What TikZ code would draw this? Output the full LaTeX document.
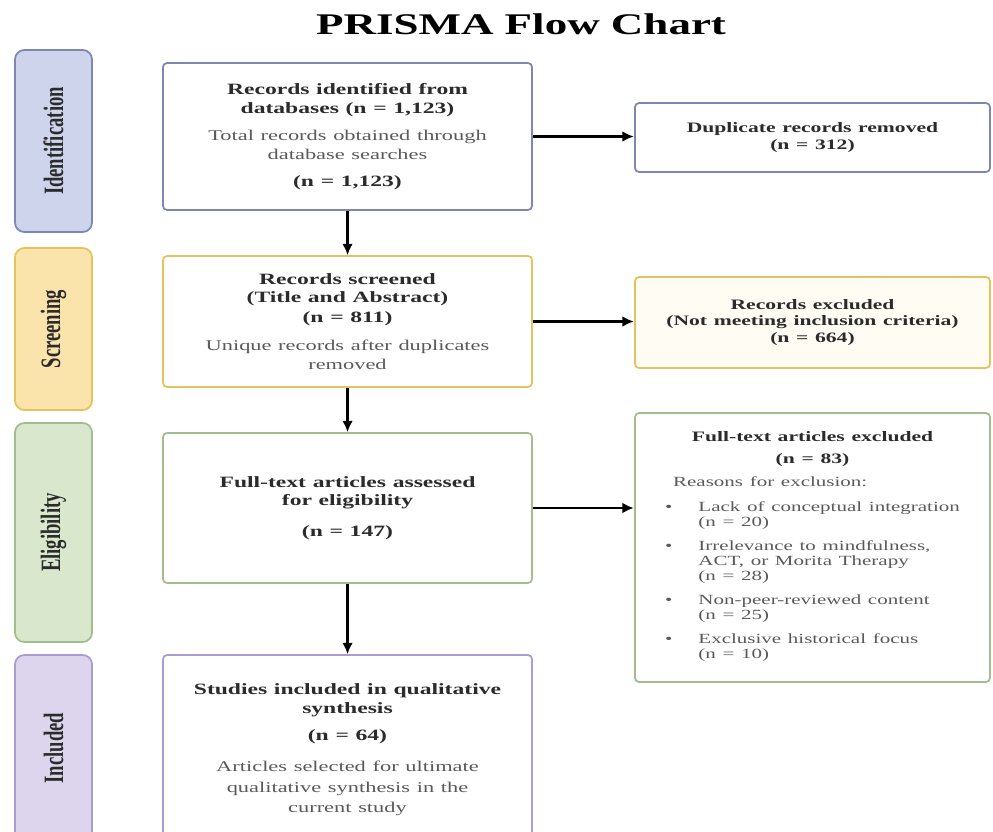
\documentclass[tikz,border=0pt]{standalone}
\usepackage{fontspec}
\setmainfont{Liberation Serif}
\usepackage{xcolor}
\usetikzlibrary{arrows.meta}
\definecolor{idblue}{HTML}{7D87B2}
\definecolor{idfill}{HTML}{CDD4EC}
\definecolor{scryellow}{HTML}{E6C25E}
\definecolor{scrfill}{HTML}{FBE3AC}
\definecolor{scrpale}{HTML}{FFFDF3}
\definecolor{eliggreen}{HTML}{A1BE8D}
\definecolor{eligfill}{HTML}{D9E7CD}
\definecolor{inclpurple}{HTML}{AA9CD1}
\definecolor{inclfill}{HTML}{DDD5EE}
\definecolor{headtxt}{HTML}{2B2B2B}
\definecolor{bodytxt}{HTML}{5A5A5A}

\newcommand\bhead[1]{{\fontsize{11.8}{14}\selectfont\bfseries\color{headtxt}#1\par}}
\newcommand\btext[1]{{\fontsize{11.2}{14.5}\selectfont\color{bodytxt}#1\par}}
\newcommand\shead[1]{{\fontsize{10.8}{12.5}\selectfont\bfseries\color{headtxt}#1\par}}

\begin{document}
\begin{tikzpicture}[
  x=0.5pt, y=-0.75pt, xscale=1.5,
  every node/.append style={transform shape},
  sz/.style 2 args={minimum width=#1*0.5pt, minimum height=#2*0.75pt},
  stage/.style 2 args={rectangle, rounded corners=7pt, draw=#1, fill=#2,
    line width=1.3pt, inner sep=0pt, text=headtxt,
    font=\fontsize{14}{14}\selectfont\bfseries},
  mainbox/.style={rectangle, rounded corners=3pt, draw=#1, fill=white,
    line width=1.3pt, inner sep=0pt, text width=175pt, align=center},
  sidebox/.style={rectangle, rounded corners=3pt, draw=#1, fill=white,
    line width=1.3pt, inner sep=0pt, text width=165pt, align=center},
  arr/.style={-{Latex[length=8.5pt,width=8pt]}, line width=1.6pt}
]
  \useasboundingbox (0,0) rectangle (993,832);
  \clip (0,0) rectangle (993,832);

  % Title
  \node[font=\fontsize{22.5}{27}\selectfont\bfseries, anchor=base] (title) at (521,34) {PRISMA Flow Chart};

  % Stages
  \node[stage={idblue}{idfill}, sz={77}{182}] (stident) at (53.5,141) {\rotatebox{90}{Identification}};
  \node[stage={scryellow}{scrfill}, sz={77}{162}] (stscreen) at (53.5,329) {\rotatebox{90}{Screening}};
  \node[stage={eliggreen}{eligfill}, sz={77}{219}] (stelig) at (53.5,532.5) {\rotatebox{90}{Eligibility}};
  \node[stage={inclpurple}{inclfill}, sz={77}{186}] (stincl) at (53.5,748) {\rotatebox{90}{Included}};

  % Main flow
  \node[mainbox=idblue, sz={369}{147}] (recid) at (347.5,136.5)
    {\bhead{Records identified from\\databases (n = 1,123)}\vspace{6pt}%
     \btext{Total records obtained through\\database searches}\vspace{6pt}%
     \bhead{(n = 1,123)}};
  \node[mainbox=scryellow, sz={369}{131}] (screened) at (347.5,321.5)
    {\bhead{Records screened\\(Title and Abstract)\\[1pt](n = 811)}\vspace{6pt}%
     \btext{Unique records after duplicates\\removed}};
  \node[mainbox=eliggreen, sz={369}{150}] (assessed) at (347.5,508)
    {\bhead{Full-text articles assessed\\for eligibility}\vspace{9pt}%
     \bhead{(n = 147)}\vspace{10pt}};
  \node[mainbox=inclpurple, sz={369}{190}] (included) at (347.5,750)
    {\bhead{Studies included in qualitative\\synthesis}\vspace{6pt}%
     \bhead{(n = 64)}\vspace{9pt}%
     \btext{Articles selected for ultimate\\[1pt]qualitative synthesis in the\\[1pt]current study}\vspace{4pt}};

  % Exclusions
  \node[sidebox=idblue, sz={355}{69}] (dup) at (812.5,137.5)
    {\shead{Duplicate records removed\\(n = 312)}};
  \node[sidebox=scryellow, fill=scrpale, sz={355}{91}] (excl) at (812.5,322.5)
    {\shead{Records excluded\\(Not meeting inclusion criteria)\\(n = 664)}};
  \node[sidebox=eliggreen, sz={355}{269}] (ftex) at (812.5,547.5)
    {\shead{Full-text articles excluded\\[4pt](n = 83)}\vspace{6pt}%
     {\fontsize{10.5}{11.2}\selectfont\color{bodytxt}%
      \begin{tabular}{@{}l@{\hspace{13pt}}l@{}}
        \multicolumn{2}{@{\hspace{4pt}}l@{}}{Reasons for exclusion:}\\[7pt]
        \textbullet & Lack of conceptual integration\\
                    & (n = 20)\\[7pt]
        \textbullet & Irrelevance to mindfulness,\\
                    & ACT, or Morita Therapy\\
                    & (n = 28)\\[7pt]
        \textbullet & Non-peer-reviewed content\\
                    & (n = 25)\\[7pt]
        \textbullet & Exclusive historical focus\\
                    & (n = 10)
      \end{tabular}\par}};

  % Connectors
  \draw[arr] (recid.south) -- (screened.north);
  \draw[arr] (screened.south) -- (assessed.north);
  \draw[arr] (assessed.south) -- (included.north);
  \draw[arr] (recid.east) -- (recid.east -| dup.west);
  \draw[arr] (screened.east) -- (screened.east -| excl.west);
  \draw[arr] (assessed.east) -- (assessed.east -| ftex.west);
\end{tikzpicture}
\end{document}
